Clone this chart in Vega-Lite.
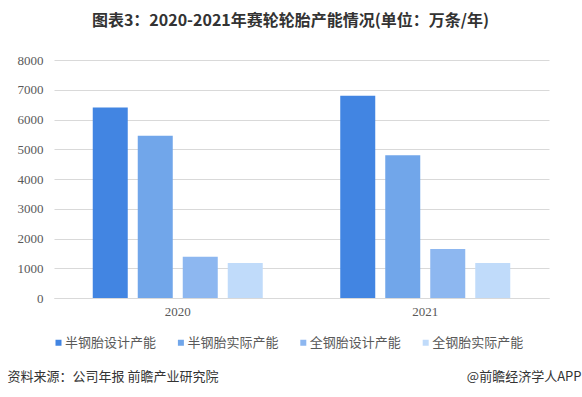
{
  "$schema": "https://vega.github.io/schema/vega-lite/v6.json",
  "width": 495,
  "height": 238,
  "autosize": {"type": "none"},
  "padding": {"left": 54, "top": 60, "right": 33, "bottom": 99},
  "background": "white",
  "title": {
    "text": "图表3：2020-2021年赛轮轮胎产能情况(单位：万条/年)",
    "anchor": "middle",
    "frame": "group",
    "dx": -11,
    "offset": 25,
    "font": "Noto Sans CJK SC",
    "fontSize": 16,
    "fontWeight": "bold",
    "color": "#333333"
  },
  "config": {
    "view": {"stroke": null},
    "axis": {"labelFont": "Liberation Serif", "labelFontSize": 13, "labelColor": "#595959"}
  },
  "data": {
    "values": [
      {"year": "2020", "type": "半钢胎设计产能", "value": 6400},
      {"year": "2020", "type": "半钢胎实际产能", "value": 5450},
      {"year": "2020", "type": "全钢胎设计产能", "value": 1390},
      {"year": "2020", "type": "全钢胎实际产能", "value": 1180},
      {"year": "2021", "type": "半钢胎设计产能", "value": 6800},
      {"year": "2021", "type": "半钢胎实际产能", "value": 4800},
      {"year": "2021", "type": "全钢胎设计产能", "value": 1650},
      {"year": "2021", "type": "全钢胎实际产能", "value": 1180}
    ]
  },
  "mark": {"type": "bar"},
  "encoding": {
    "x": {
      "field": "year",
      "type": "nominal",
      "scale": {"paddingInner": 0, "paddingOuter": 0},
      "axis": {
        "title": "资料来源：公司年报 前瞻产业研究院",
        "titleX": -47,
        "titleY": 78,
        "titleAlign": "left",
        "titleBaseline": "middle",
        "titleFont": "Noto Sans CJK SC",
        "titleFontSize": 13,
        "titleFontWeight": "normal",
        "titleColor": "#333333",
        "labelAngle": 0,
        "labelPadding": 7,
        "ticks": false,
        "domain": true,
        "domainColor": "#D9D9D9",
        "domainWidth": 1
      }
    },
    "xOffset": {
      "field": "type",
      "type": "nominal",
      "sort": ["半钢胎设计产能", "半钢胎实际产能", "全钢胎设计产能", "全钢胎实际产能"],
      "scale": {"paddingInner": 0.2222, "paddingOuter": 0.861}
    },
    "y": {
      "field": "value",
      "type": "quantitative",
      "scale": {"domain": [0, 8000]},
      "axis": {
        "values": [0, 1000, 2000, 3000, 4000, 5000, 6000, 7000, 8000],
        "format": "d",
        "title": "@前瞻经济学人APP",
        "titleAngle": 0,
        "titleX": 527,
        "titleY": 316,
        "titleAlign": "right",
        "titleBaseline": "middle",
        "titleFont": "Noto Sans CJK SC",
        "titleFontSize": 13,
        "titleFontWeight": "normal",
        "titleColor": "#333333",
        "domain": false,
        "ticks": false,
        "labelPadding": 11,
        "gridColor": "#D9D9D9",
        "gridWidth": 1
      }
    },
    "color": {
      "field": "type",
      "type": "nominal",
      "scale": {
        "domain": ["半钢胎设计产能", "半钢胎实际产能", "全钢胎设计产能", "全钢胎实际产能"],
        "range": ["#4285E2", "#71A6EA", "#8DB7F0", "#C0DBFA"]
      },
      "legend": {
        "orient": "none",
        "direction": "horizontal",
        "legendX": -2,
        "legendY": 276,
        "title": null,
        "padding": 0,
        "symbolType": "square",
        "symbolSize": 36,
        "symbolStrokeWidth": 0,
        "labelOffset": 0,
        "labelFont": "Noto Sans CJK SC",
        "labelFontSize": 13,
        "labelColor": "#595959",
        "columnPadding": 17.4
      }
    }
  }
}
